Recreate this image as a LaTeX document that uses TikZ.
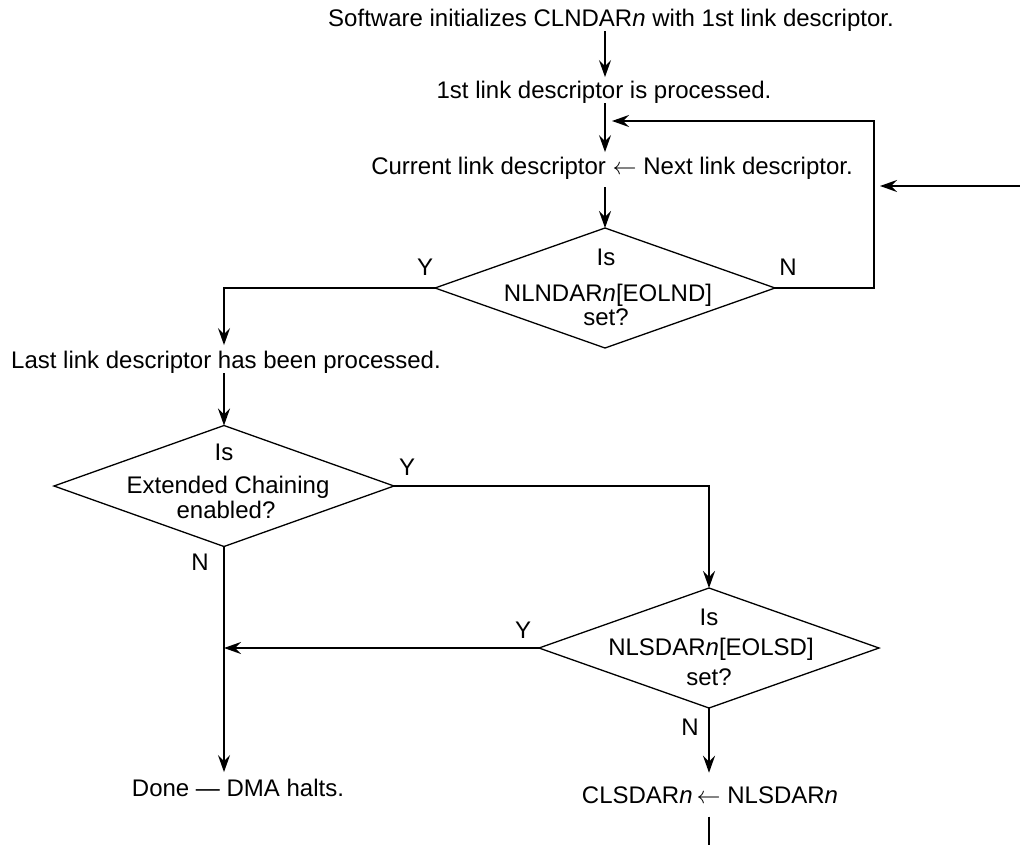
\documentclass[tikz,border=0pt]{standalone}
\usepackage{fontspec}
\setmainfont{Liberation Sans}
\usetikzlibrary{arrows.meta,shapes.geometric}
\begin{document}
\begin{tikzpicture}[x=0.5pt,y=-0.5pt,
  txt/.style={inner sep=0pt, outer sep=0pt, font=\fontsize{12}{14}\selectfont, anchor=base},
  dia/.style={draw, diamond, line width=0.65pt, inner sep=0pt, outer sep=0pt,
              minimum width=170pt, minimum height=60pt},
  arr/.style={line width=1pt, -{Stealth[length=8.5pt,width=6pt,inset=3pt]}},
  ln/.style={line width=1pt}]
\useasboundingbox (0,0) rectangle (1020,845);

% text steps
\node[txt] (t1) at (611,26.5) {Software initializes CLNDAR\textit{n} with 1st link descriptor.};
\node[txt] (t2) at (604,98.5) {1st link descriptor is processed.};
\node[txt] (t3) at (612,174.5) {Current link descriptor $\leftarrow$ Next link descriptor.};
\node[txt] (t4) at (226,368.5) {Last link descriptor has been processed.};
\node[txt] (t5) at (238,796.5) {Done — DMA halts.};
\node[txt] (t6) at (710,803.5) {CLSDAR\textit{n}\,$\leftarrow$ NLSDAR\textit{n}};

% decisions
\node[dia] (d1) at (605,288) {};
\node[txt] (d1a) at (606,265.5) {Is};
\node[txt] (d1b) at (608,301.5) {NLNDAR\textit{n}[EOLND]};
\node[txt] (d1c) at (606,325.5) {set?};

\node[dia, minimum height=60.5pt] (d2) at (224,486) {};
\node[txt] (d2a) at (224,460.5) {Is};
\node[txt] (d2b) at (228,493.5) {Extended Chaining};
\node[txt] (d2c) at (226,518.5) {enabled?};

\node[dia] (d3) at (709,648) {};
\node[txt] (d3a) at (709,625.5) {Is};
\node[txt] (d3b) at (711,655.5) {NLSDAR\textit{n}[EOLSD]};
\node[txt] (d3c) at (709,685.5) {set?};

% branch labels
\node[txt] (y1) at (425,275.5) {Y};
\node[txt] (n1) at (788,275.5) {N};
\node[txt] (y2) at (407,475.5) {Y};
\node[txt] (n2) at (200,570.5) {N};
\node[txt] (y3) at (523,638.5) {Y};
\node[txt] (n3) at (690,735.5) {N};

% helper coordinates
\coordinate (loopR) at (874,121);
\coordinate (j1) at (605,121);
\coordinate (extS) at (1020,186);
\coordinate (extT) at (874,186);
\coordinate (bot) at (709,845);

% connectors
\draw[arr, shorten >=2pt] (t1.south -| d1.north) -- (t2.north -| d1.north);
\draw[arr, shorten >=2.5pt] (t2.south -| d1.north) -- (t3.north -| d1.north);
\draw[arr, shorten <=4pt] (t3.south -| d1.north) -- (d1.north);
\draw[arr, shorten >=3.5pt] (d1.east) -| (loopR) -- (j1);
\draw[arr, shorten >=3pt] (extS) -- (extT);
\draw[arr, shorten >=3pt] (d1.west) -| (d2.north |- t4.north);
\draw[arr] (t4.south -| d2.north) -- (d2.north);
\draw[arr] (d2.east) -| (d3.north);
\draw[arr, shorten >=3.5pt] (d2.south) -- (d2.south |- t5.north);
\draw[arr] (d3.west) -- (d3.west -| d2.south);
\draw[arr, shorten >=7pt] (d3.south) -- (t6.north -| d3.south);
\draw[ln, shorten <=6.5pt] (t6.south -| d3.south) -- (bot);
\end{tikzpicture}
\end{document}
